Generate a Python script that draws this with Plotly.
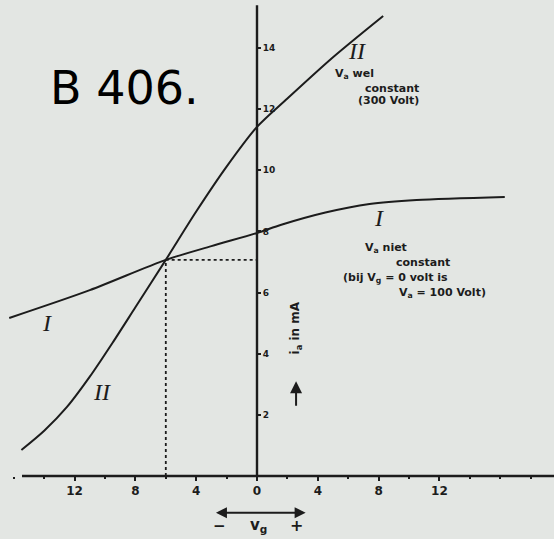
import plotly.graph_objects as go

# Curve I: anode current with Va not constant
curve1_vg = [-16.3, -11.0, -6.0, -3.0, 0.0, 1.6, 4.5, 7.4, 10.5, 16.3]
curve1_ia = [5.17, 6.08, 7.07, 7.52, 7.95, 8.22, 8.62, 8.90, 9.03, 9.13]

# Curve II: anode current with Va constant (300 Volt)
curve2_vg = [-15.5, -14.0, -12.5, -11.0, -9.5, -8.0, -6.0, -4.0, -2.0, 0.0, 2.0, 5.0, 8.3]
curve2_ia = [0.85, 1.48, 2.26, 3.25, 4.36, 5.52, 7.07, 8.65, 10.12, 11.42, 12.35, 13.70, 15.05]

# Crossing point of the two curves
cross_vg = -6.0
cross_ia = 7.07

x_ticks = [-12, -8, -4, 0, 4, 8, 12]
x_ticktext = ["12", "8", "4", "0", "4", "8", "12"]
y_ticks = [2, 4, 6, 8, 10, 12, 14]
y_ticktext = ["2", "4", "6", "8", "10", "12", "14"]

INK = "#1c1c1c"
BG = "#e3e6e3"
HAND = "DejaVu Sans"

fig = go.Figure()

for xs, ys in [(curve1_vg, curve1_ia), (curve2_vg, curve2_ia)]:
    fig.add_trace(go.Scatter(
        x=xs, y=ys, mode="lines",
        line=dict(color=INK, width=2, shape="spline", smoothing=0.8),
        hoverinfo="skip", showlegend=False,
    ))

# Dotted guides from the crossing point to both axes
fig.add_trace(go.Scatter(
    x=[cross_vg, cross_vg, 0], y=[0, cross_ia, cross_ia], mode="lines",
    line=dict(color=INK, width=1.8, dash="dot"),
    hoverinfo="skip", showlegend=False,
))

# Hand-drawn axis lines
fig.add_shape(type="line", xref="x", yref="y", x0=-15.46, x1=19.6, y0=0, y1=0,
              line=dict(color=INK, width=2.4))
fig.add_shape(type="line", xref="x", yref="y", x0=0, x1=0, y0=0, y1=15.4,
              line=dict(color=INK, width=2.4))

small = dict(size=11, family=HAND, color=INK, weight="bold")
roman = dict(size=24, family="Liberation Serif", color=INK, style="italic")

annotations = [
    dict(x=-8.75, y=12.7, text="B 406.", font=dict(size=46, family=HAND, color="#000")),
    dict(x=6.6, y=13.9, text="II", font=roman),
    dict(x=5.0, y=13.15, text="V<sub>a</sub> wel", xanchor="left", font=small),
    dict(x=7.0, y=12.68, text="constant", xanchor="left", font=small),
    dict(x=6.5, y=12.28, text="(300 Volt)", xanchor="left", font=small),
    dict(x=8.0, y=8.45, text="I", font=roman),
    dict(x=7.0, y=7.45, text="V<sub>a</sub> niet", xanchor="left", font=small),
    dict(x=9.0, y=6.98, text="constant", xanchor="left", font=small),
    dict(x=5.5, y=6.48, text="(bij V<sub>g</sub> = 0 volt is", xanchor="left", font=small),
    dict(x=9.2, y=5.98, text="V<sub>a</sub> = 100 Volt)", xanchor="left", font=small),
    dict(x=-13.8, y=5.0, text="I", font=roman),
    dict(x=-10.2, y=2.75, text="II", font=roman),
    dict(x=2.55, y=4.85, text="i<sub>a</sub> in mA", textangle=-90,
         font=dict(size=12, family=HAND, color=INK, weight="bold")),
    dict(x=-2.5, y=-1.62, text="−", font=dict(size=15, family=HAND, color=INK, weight="bold")),
    dict(x=0.1, y=-1.62, text="v<sub>g</sub>", font=dict(size=15, family=HAND, color=INK, weight="bold")),
    dict(x=2.6, y=-1.62, text="+", font=dict(size=16, family=HAND, color=INK, weight="bold")),
]
for a in annotations:
    a.setdefault("showarrow", False)
    a.setdefault("xref", "x")
    a.setdefault("yref", "y")
    fig.add_annotation(**a)

# Arrow pointing up along the current label
fig.add_annotation(x=2.57, y=3.1, ax=2.57, ay=2.25, xref="x", yref="y",
                   axref="x", ayref="y", text="", showarrow=True,
                   arrowhead=2, arrowsize=1.2, arrowwidth=2, arrowcolor=INK)
# Double arrow under the grid-voltage axis
fig.add_annotation(x=3.2, y=-1.2, ax=-2.8, ay=-1.2, xref="x", yref="y",
                   axref="x", ayref="y", text="", showarrow=True,
                   arrowhead=2, arrowside="end+start", arrowsize=1.1,
                   arrowwidth=2, arrowcolor=INK)

fig.update_layout(
    width=554, height=539,
    margin=dict(l=0, r=0, t=0, b=0),
    paper_bgcolor=BG, plot_bgcolor=BG,
    showlegend=False,
    xaxis=dict(
        range=[-16.908, 19.539], anchor="free", position=63 / 539,
        showline=False, showgrid=False, zeroline=False,
        tickvals=x_ticks, ticktext=x_ticktext,
        ticks="outside", ticklen=4, tickwidth=2, tickcolor=INK,
        tickfont=dict(size=12, family=HAND, color=INK, weight="bold"),
        minor=dict(dtick=2, tick0=0, ticks="outside", ticklen=2, tickwidth=1.5, tickcolor=INK),
        fixedrange=True,
    ),
    yaxis=dict(
        range=[-2.061, 15.571], anchor="free", position=257 / 554, side="right",
        showline=False, showgrid=False, zeroline=False,
        tickvals=y_ticks, ticktext=y_ticktext,
        ticks="outside", ticklen=3, tickwidth=2, tickcolor=INK,
        tickfont=dict(size=9, family=HAND, color=INK, weight="bold"),
        fixedrange=True,
    ),
)

fig.write_html("out.html")
